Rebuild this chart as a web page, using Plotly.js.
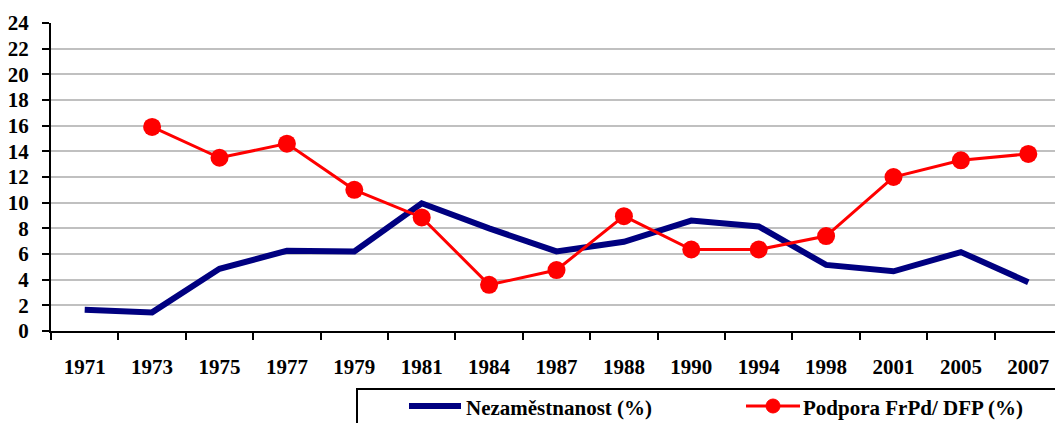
<!DOCTYPE html>
<html>
<head>
<meta charset="utf-8">
<script src="https://cdn.plot.ly/plotly-3.0.1.min.js"></script>
<style>html,body{margin:0;padding:0;background:#fff;}#chart{width:1055px;height:423px;}</style>
</head>
<body>
<div id="chart"></div>
<script>
var years = ["1971","1973","1975","1977","1979","1981","1984","1987","1988","1990","1994","1998","2001","2005","2007"];
var nezamestnanost = [1.65, 1.45, 4.85, 6.25, 6.2, 9.95, 8.0, 6.2, 6.95, 8.6, 8.15, 5.15, 4.65, 6.15, 3.8];
var podpora = [null, 15.9, 13.5, 14.6, 11.0, 8.85, 3.6, 4.75, 8.95, 6.35, 6.35, 7.4, 12.0, 13.3, 13.8];
var seriesNames = ["Nezaměstnanost (%)", "Podpora FrPd/ DFP (%)"];
var yTicks = [0,2,4,6,8,10,12,14,16,18,20,22,24];

var W = 1055, H = 423, L = 51, R = 0, T = 23, B = 92;
var pw = W - L - R, ph = H - T - B;
function px(x){ return (x - L) / pw; }
function py(y){ return (H - B - y) / ph; }

var fontFam = 'Liberation Serif';
var FS = 21;

var traces = [
  {
    x: years, y: nezamestnanost, name: seriesNames[0], type: 'scatter', mode: 'lines',
    line: {color: '#000080', width: 6}, showlegend: false
  },
  {
    x: years, y: podpora, name: seriesNames[1], type: 'scatter', mode: 'lines+markers',
    line: {color: '#ff0000', width: 3}, marker: {color: '#ff0000', size: 18}, showlegend: false
  }
];

var layout = {
  width: W, height: H,
  margin: {l: L, r: R, t: T, b: B, pad: 0},
  paper_bgcolor: '#ffffff', plot_bgcolor: '#ffffff',
  font: {family: fontFam, size: FS, color: '#000', weight: 'bold'},
  xaxis: {
    type: 'category', range: [-0.5, -0.5 + pw / 67.4],
    showgrid: false, zeroline: false,
    showline: true, linecolor: '#000', linewidth: 2,
    ticks: 'outside', tickson: 'boundaries', ticklen: 7, tickwidth: 2, tickcolor: '#000',
    tickfont: {family: fontFam, size: FS, color: '#000', weight: 'bold'},
    ticklabelstandoff: 16
  },
  yaxis: {
    range: [0, 24], tickvals: yTicks, ticktext: yTicks.map(String),
    showgrid: true, gridcolor: '#c0c0c0', gridwidth: 2, zeroline: false,
    showline: true, linecolor: '#000', linewidth: 2,
    ticks: 'outside', ticklen: 7, tickwidth: 2, tickcolor: '#000',
    tickfont: {family: fontFam, size: FS, color: '#000', weight: 'bold'},
    ticklabelstandoff: 9
  },
  shapes: [
    {type: 'rect', xref: 'paper', yref: 'paper', x0: px(357), x1: 1.2, y0: py(389), y1: py(480),
     line: {color: '#000', width: 2}, fillcolor: 'rgba(0,0,0,0)'},
    {type: 'line', xref: 'paper', yref: 'paper', x0: px(409), x1: px(461), y0: py(406), y1: py(406),
     line: {color: '#000080', width: 6}},
    {type: 'line', xref: 'paper', yref: 'paper', x0: px(746), x1: px(800), y0: py(406), y1: py(406),
     line: {color: '#ff0000', width: 3}},
    {type: 'circle', xref: 'paper', yref: 'paper', x0: px(766), x1: px(780), y0: py(413), y1: py(399),
     line: {color: '#ff0000', width: 1}, fillcolor: '#ff0000'}
  ],
  annotations: [
    {xref: 'paper', yref: 'paper', x: px(464), y: py(408), xanchor: 'left', yanchor: 'middle',
     text: seriesNames[0], showarrow: false,
     font: {family: fontFam, size: FS, color: '#000', weight: 'bold'}},
    {xref: 'paper', yref: 'paper', x: px(801), y: py(408), xanchor: 'left', yanchor: 'middle',
     text: seriesNames[1], showarrow: false,
     font: {family: fontFam, size: FS, color: '#000', weight: 'bold'}}
  ]
};

Plotly.newPlot('chart', traces, layout, {displayModeBar: false, staticPlot: true});
</script>
</body>
</html>
